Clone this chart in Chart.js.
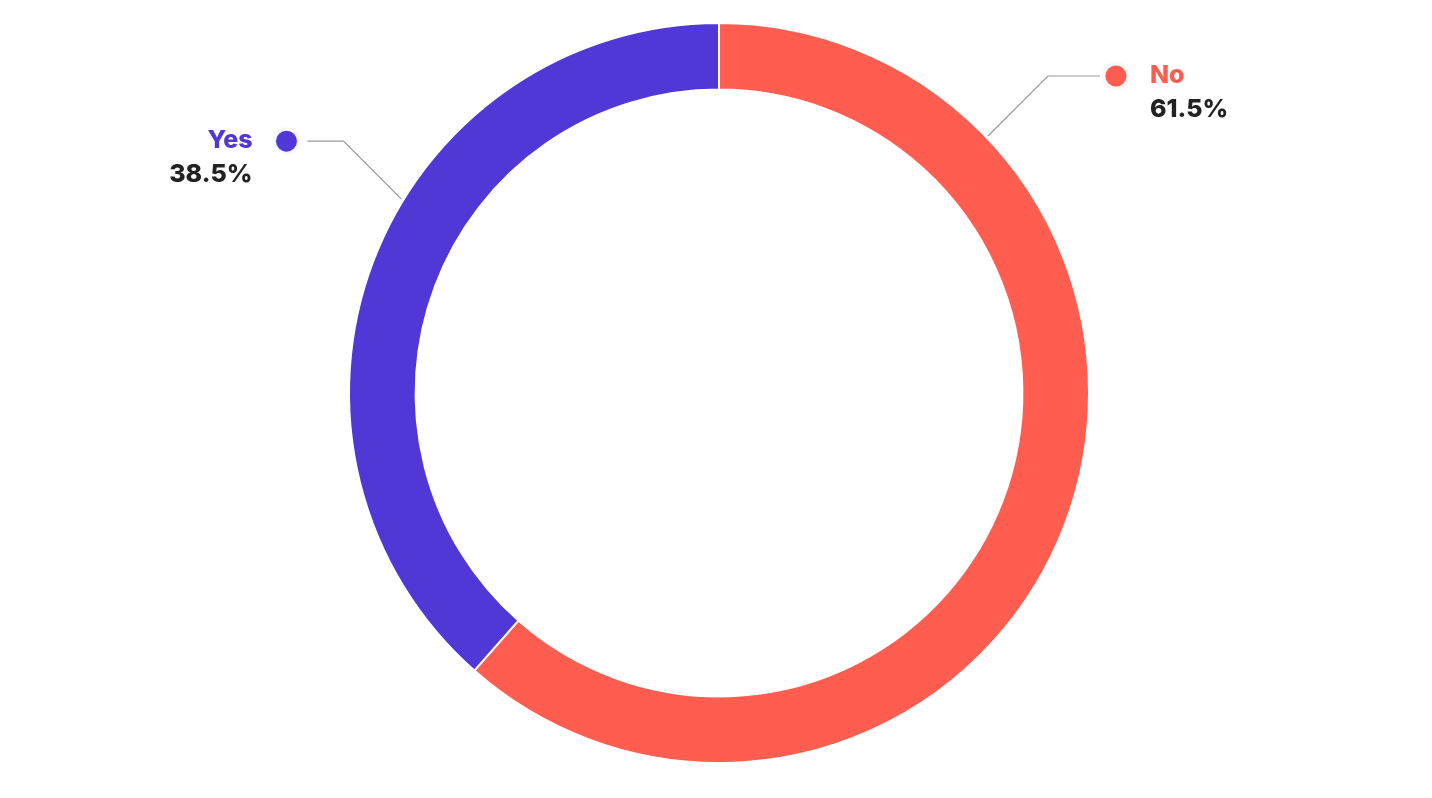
<!DOCTYPE html>
<html>
<head>
<meta charset="utf-8">
<script src="https://cdn.jsdelivr.net/npm/chart.js@4"></script>
<style>
  html, body { margin: 0; padding: 0; background: #ffffff; }
  #wrap { width: 1432px; height: 798px; position: relative; }
</style>
</head>
<body>
<div id="wrap"><canvas id="c"></canvas></div>
<script>
const categories = ["No", "Yes"];
const values = [61.5, 38.5];
const valueLabels = ["61.5%", "38.5%"];
const colors = ["#FF5D4F", "#5038D6"];

// label callout placement (angle from 12 o'clock, clockwise, degrees)
const calloutAngles = [46.3, 301.4];
const calloutRise = [60, 58];
const calloutRun = [52, 36];
const calloutDot = [16, 21];

const calloutPlugin = {
  id: 'callouts',
  afterDatasetsDraw(chart) {
    const ctx = chart.ctx;
    const meta = chart.getDatasetMeta(0);
    meta.data.forEach((arc, i) => {
      const cx = arc.x, cy = arc.y, r = arc.outerRadius + 2;
      const a = calloutAngles[i] * Math.PI / 180;
      const ax = cx + r * Math.sin(a);
      const ay = cy - r * Math.cos(a);
      const dir = Math.sin(a) >= 0 ? 1 : -1;
      const ex = ax + dir * calloutRise[i];
      const ey = ay - calloutRise[i];
      const hx = ex + dir * calloutRun[i];
      ctx.save();
      ctx.strokeStyle = '#9a9a9a';
      ctx.lineWidth = 1.2;
      ctx.beginPath();
      ctx.moveTo(ax, ay);
      ctx.lineTo(ex, ey);
      ctx.lineTo(hx, ey);
      ctx.stroke();
      const dotX = hx + dir * calloutDot[i];
      ctx.fillStyle = '#f8f8f8';
      ctx.beginPath(); ctx.arc(dotX, ey, 14, 0, Math.PI * 2); ctx.fill();
      ctx.fillStyle = colors[i];
      ctx.beginPath(); ctx.arc(dotX, ey, 10.5, 0, Math.PI * 2); ctx.fill();
      const tx = dotX + dir * 34;
      ctx.textAlign = dir > 0 ? 'left' : 'right';
      ctx.textBaseline = 'middle';
      ctx.font = '800 25px Inter, "Open Sans", sans-serif';
      ctx.fillStyle = colors[i];
      ctx.fillText(categories[i], tx, ey - 1);
      ctx.fillStyle = '#222222';
      ctx.fillText(valueLabels[i], tx, ey + 33);
      ctx.restore();
    });
  }
};

new Chart(document.getElementById('c'), {
  type: 'doughnut',
  data: {
    labels: categories,
    datasets: [{
      data: values,
      backgroundColor: colors,
      borderColor: '#ffffff',
      borderWidth: 2,
      hoverOffset: 0
    }]
  },
  options: {
    responsive: true,
    maintainAspectRatio: false,
    animation: false,
    cutout: '82%',
    layout: { padding: { top: 22, bottom: 34, left: 6, right: 0 } },
    plugins: {
      legend: { display: false },
      tooltip: { enabled: false }
    }
  },
  plugins: [calloutPlugin]
});
</script>
</body>
</html>
